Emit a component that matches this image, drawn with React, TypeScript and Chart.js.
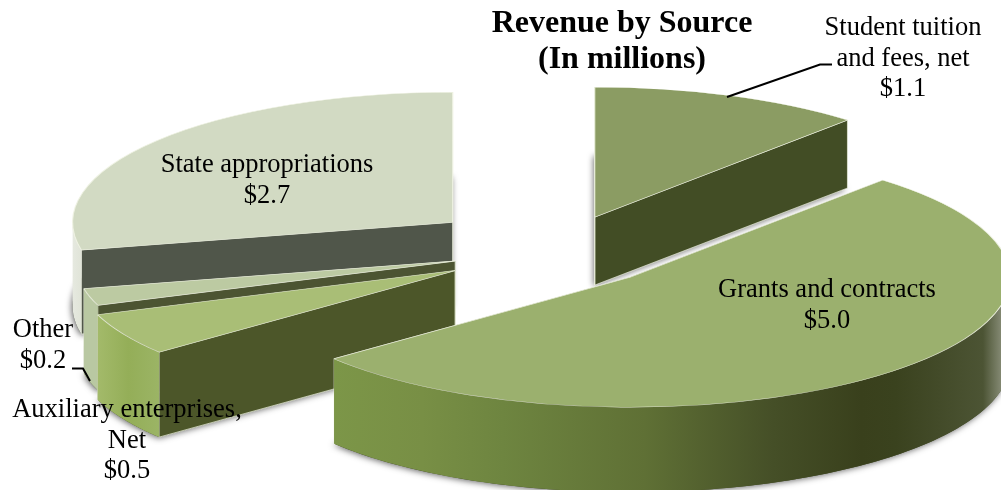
import React, { useEffect, useRef } from "react";
import { Chart, registerables } from "chart.js";

Chart.register(...registerables);

// ---- data ----
const categories = [
  "Student tuition and fees, net",
  "Grants and contracts",
  "Auxiliary enterprises, Net",
  "Other",
  "State appropriations",
];
const values = [1.1, 5.0, 0.5, 0.2, 2.7];
const titleLines = ["Revenue by Source", "(In millions)"];
const labelLines = [
  ["Student tuition", "and fees, net"],
  ["Grants and contracts"],
  ["Auxiliary enterprises,", "Net"],
  ["Other"],
  ["State appropriations"],
];

// ---- styles / layout ----
const topColors = ["#8B9C63", "#9BB06E", "#A9BE76", "#BCCAA2", "#D2DAC3"];
const cutColors = ["#424D25", "#3F4820", "#4C5629", "#4C5432", "#50564A"];
const wallStops: [number, string][][] = [
  [[0, "#424D25"], [1, "#424D25"]],
  [[0, "#7C9648"], [0.13, "#788F45"], [0.25, "#6E8540"], [0.46, "#5F7035"], [0.65, "#454F27"], [0.78, "#39401C"], [0.83, "#3A421E"], [0.96, "#4C5434"], [0.99, "#8A8F7A"], [1, "#8A8F7A"]],
  [[0, "#A3BA6A"], [0.5, "#94AE58"], [1, "#9BB465"]],
  [[0, "#B9C8A2"], [1, "#B9C8A2"]],
  [[0, "#E6E9E0"], [1, "#E0E4D8"]],
];
const explode = [106, 106, 117, 106, 134];
const depths = [68, 85, 85, 85, 84];
const drawOrder = [0, 4, 3, 2, 1];
const SQUASH = 0.342;
const RADIUS = 380;
const EDGE = "rgba(238,242,226,0.9)";
const FONT = '"Liberation Serif", "Times New Roman", serif';

const labelPlacement = [
  { x: 903, y: 35 },
  { x: 827, y: 297 },
  { x: 127, y: 417 },
  { x: 43, y: 337 },
  { x: 267, y: 172 },
];
const LINE_STEP = 30.5;
const leaders = [
  [[727, 97], [820, 64.5], [832, 64.5]],
  [[72, 368.5], [83, 368.5], [90, 381]],
];

const pie3d = {
  id: "pie3d",
  beforeDatasetDraw(chart: any, args: any) {
    const ctx = chart.ctx as CanvasRenderingContext2D;
    const arcs = args.meta.data;
    drawOrder.forEach((i) => {
      const arc = arcs[i];
      const { x, y, startAngle, endAngle, outerRadius, circumference } = arc;
      const off = arc.options.offset / 4;
      const mid = (startAngle + endAngle) / 2;
      const ax = x + Math.cos(mid) * off;
      const ay = y + Math.sin(mid) * off * SQUASH;
      const rimPt = (t: number, dy = 0) => [
        ax + Math.cos(t) * outerRadius,
        ay + Math.sin(t) * outerRadius * SQUASH + dy,
      ];
      const depth = depths[i];
      const steps = 120;
      const angleAt = (k: number) => startAngle + (circumference * k) / steps;

      // bottom face with its soft shadow
      ctx.save();
      ctx.shadowColor = "rgba(0,0,0,0.6)";
      ctx.shadowBlur = 6;
      ctx.shadowOffsetX = -1;
      ctx.shadowOffsetY = 1;
      ctx.fillStyle = cutColors[i];
      ctx.beginPath();
      ctx.moveTo(ax, ay + depth);
      for (let k = 0; k <= steps; k++) {
        const p = rimPt(angleAt(k), depth);
        ctx.lineTo(p[0], p[1]);
      }
      ctx.closePath();
      ctx.fill();
      ctx.restore();

      // cut faces
      const quad = (t: number) => {
        const p = rimPt(t);
        ctx.beginPath();
        ctx.moveTo(ax, ay);
        ctx.lineTo(p[0], p[1]);
        ctx.lineTo(p[0], p[1] + depth);
        ctx.lineTo(ax, ay + depth);
        ctx.closePath();
        ctx.fillStyle = cutColors[i];
        ctx.fill();
        ctx.strokeStyle = EDGE;
        ctx.lineWidth = 0.8;
        ctx.stroke();
      };
      quad(endAngle);
      quad(startAngle);

      // outer curved wall: only the front-facing part of the rim (0..PI on the canvas)
      const from = Math.max(startAngle, 0);
      const to = Math.min(endAngle, Math.PI);
      if (to > from) {
        const wallAngle = (k: number) => from + ((to - from) * k) / steps;
        let minX = Infinity;
        let maxX = -Infinity;
        ctx.beginPath();
        for (let k = 0; k <= steps; k++) {
          const p = rimPt(wallAngle(k));
          minX = Math.min(minX, p[0]);
          maxX = Math.max(maxX, p[0]);
          if (k === 0) ctx.moveTo(p[0], p[1]);
          else ctx.lineTo(p[0], p[1]);
        }
        for (let k = steps; k >= 0; k--) {
          const p = rimPt(wallAngle(k), depth);
          ctx.lineTo(p[0], p[1]);
        }
        ctx.closePath();
        const g = ctx.createLinearGradient(minX, 0, maxX, 0);
        wallStops[i].forEach(([f, c]) => g.addColorStop(f, c));
        ctx.fillStyle = g;
        ctx.fill();
      }

      // top face: the library's own arc element, on a squashed canvas.
      // The explode shift is applied here, so the element draws without its inner hole.
      ctx.save();
      ctx.translate(0, y);
      ctx.scale(1, SQUASH);
      ctx.translate(0, -y);
      ctx.translate(Math.cos(mid) * off, Math.sin(mid) * off);
      const resolved = arc.options;
      arc.options = Object.create(resolved, { offset: { value: 0 } });
      arc.draw(ctx);
      arc.options = resolved;
      ctx.restore();
    });
    return false;
  },
  afterDraw(chart: any) {
    const ctx = chart.ctx as CanvasRenderingContext2D;
    ctx.save();
    ctx.fillStyle = "#000";
    ctx.textAlign = "center";
    ctx.textBaseline = "alphabetic";
    ctx.font = `bold 32px ${FONT}`;
    titleLines.forEach((t, i) => ctx.fillText(t, 622, 32 + i * 35.5));
    ctx.font = `26.5px ${FONT}`;
    labelLines.forEach((lines, i) => {
      const { x, y } = labelPlacement[i];
      const all = [...lines, `$${values[i].toFixed(1)}`];
      all.forEach((t, j) => ctx.fillText(t, x, y + j * LINE_STEP));
    });
    ctx.strokeStyle = "#000";
    ctx.lineWidth = 2;
    leaders.forEach((pts) => {
      ctx.beginPath();
      pts.forEach((p, k) => (k ? ctx.lineTo(p[0], p[1]) : ctx.moveTo(p[0], p[1])));
      ctx.stroke();
    });
    ctx.restore();
  },
};

export default function App() {
  const ref = useRef<HTMLCanvasElement>(null);
  useEffect(() => {
    document.body.style.margin = "0";
    const chart = new Chart(ref.current!, {
      type: "pie",
      data: {
        labels: categories,
        datasets: [
          {
            data: values,
            backgroundColor: topColors,
            borderColor: EDGE,
            borderWidth: 1.2,
            offset: explode.map((d) => d * 4),
            clip: false,
          } as any,
        ],
      },
      options: {
        animation: false,
        responsive: false,
        radius: RADIUS,
        cutout: "0%",
        layout: { padding: { left: 113, top: 12, right: 0, bottom: 0 } },
        plugins: { legend: { display: false }, title: { display: false }, tooltip: { enabled: false } },
      } as any,
      plugins: [pie3d],
    });
    return () => chart.destroy();
  }, []);
  return <canvas ref={ref} width={1001} height={490} style={{ display: "block" }} />;
}
